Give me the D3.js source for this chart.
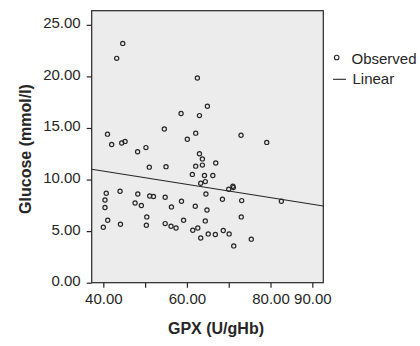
<!DOCTYPE html>
<html>
<head>
<meta charset="utf-8">
<script src="https://cdn.jsdelivr.net/npm/d3@7"></script>
<style>
  html, body { margin: 0; padding: 0; background: #fff; }
  svg { display: block; font-family: "Liberation Sans", Arial, sans-serif; }
</style>
</head>
<body>
<svg id="chart" width="420" height="346"></svg>
<script>
// ---- Data ----
const gpx = [44.65, 43.2, 62.5, 58.6, 63.0, 64.9, 54.6, 60.1, 62.1, 41.0,
             42.0, 44.4, 45.2, 48.2, 50.2, 63.0, 63.7, 72.95, 79.1, 51.0,
             55.0, 62.1, 63.7, 66.9, 61.3, 64.2, 66.2, 63.3, 64.4, 70.0,
             71.0, 71.1, 40.7, 40.4, 40.4, 41.05, 40.0, 44.0, 44.1, 47.6,
             48.25, 49.1, 50.4, 50.3, 51.1, 52.0, 54.8, 54.8, 56.3, 56.2,
             57.4, 58.7, 59.2, 61.4, 62.6, 62.0, 63.3, 64.55, 64.8, 64.4,
             65.1, 66.8, 68.7, 70.1, 71.2, 68.5, 73.1, 73.0, 82.6, 75.4];
const glucose = [23.2, 21.75, 19.85, 16.4, 16.2, 17.1, 14.9, 13.9, 14.5, 14.4,
                 13.4, 13.55, 13.7, 12.7, 13.1, 12.5, 12.0, 14.3, 13.6, 11.2,
                 11.25, 11.3, 11.4, 11.6, 10.5, 10.4, 10.4, 9.64, 9.8, 9.06,
                 9.35, 9.22, 8.67, 8.02, 7.29, 6.06, 5.38, 8.87, 5.67, 7.73,
                 8.6, 7.48, 6.38, 5.57, 8.41, 8.35, 8.28, 5.73, 7.35, 5.47,
                 5.31, 7.9, 6.06, 5.09, 5.31, 7.41, 4.34, 8.6, 7.05, 5.99,
                 4.73, 4.67, 5.06, 4.73, 3.57, 8.09, 7.96, 6.38, 7.9, 4.22];
const fitIntercept = 13.39;
const fitSlope = -0.0643;
const xTicks = [40, 50, 60, 70, 80, 90];
const xTickLabels = ["40.00", "", "60.00", "", "80.00", "90.00"];
const yTicks = [0, 5, 10, 15, 20, 25];
const yTickLabels = ["0.00", "5.00", "10.00", "15.00", "20.00", "25.00"];
const legendLabels = ["Observed", "Linear"];
const xTitle = "GPX (U/gHb)";
const yTitle = "Glucose (mmol/l)";

// ---- Layout ----
const svg = d3.select("#chart");
const pL = 91.7, pR = 323.3, pT = 10.7, pB = 282.7;
const x = d3.scaleLinear().domain([37.22, 92.63]).range([pL, pR]);
const y = d3.scaleLinear().domain([0, 26.37]).range([pB, pT]);
const ink = "#262626";

// plot background
svg.append("rect")
  .attr("x", pL).attr("y", pT)
  .attr("width", pR - pL).attr("height", pB - pT)
  .attr("fill", "#ececec").attr("stroke", ink).attr("stroke-width", 1.2);

// y axis
const yAxis = svg.append("g").attr("transform", `translate(${pL},0)`)
  .call(d3.axisLeft(y).tickValues(yTicks).tickSize(5).tickPadding(6)
        .tickFormat((d, i) => yTickLabels[i]));
yAxis.select(".domain").remove();
yAxis.selectAll("line").attr("stroke", ink).attr("stroke-width", 1.2);
yAxis.selectAll("text").attr("font-size", 15).attr("fill", ink)
  .attr("font-family", "Liberation Sans, Arial, sans-serif")
  .attr("dy", null).attr("y", 3);

// x axis
const xAxis = svg.append("g").attr("transform", `translate(0,${pB})`)
  .call(d3.axisBottom(x).tickValues(xTicks).tickSize(5).tickPadding(6)
        .tickFormat((d, i) => xTickLabels[i]));
xAxis.select(".domain").remove();
xAxis.selectAll("line").attr("stroke", ink).attr("stroke-width", 1.2);
xAxis.selectAll("text").attr("font-size", 15).attr("fill", ink)
  .attr("font-family", "Liberation Sans, Arial, sans-serif")
  .attr("dy", null).attr("y", 21);

// regression line
const xd = x.domain();
svg.append("line")
  .attr("x1", x(xd[0])).attr("y1", y(fitIntercept + fitSlope * xd[0]))
  .attr("x2", x(xd[1])).attr("y2", y(fitIntercept + fitSlope * xd[1]))
  .attr("stroke", ink).attr("stroke-width", 1.2);

// points
svg.append("g").selectAll("circle")
  .data(gpx.map((g, i) => [g, glucose[i]]))
  .join("circle")
  .attr("cx", d => x(d[0])).attr("cy", d => y(d[1]))
  .attr("r", 2.1).attr("fill", "none")
  .attr("stroke", ink).attr("stroke-width", 1.2);

// axis titles
svg.append("text").text(xTitle)
  .attr("x", 216).attr("y", 333.5).attr("text-anchor", "middle")
  .attr("font-size", 16).attr("font-weight", "bold").attr("fill", ink);
svg.append("text").text(yTitle)
  .attr("transform", "translate(31,149) rotate(-90)")
  .attr("text-anchor", "middle")
  .attr("font-size", 16).attr("font-weight", "bold").attr("fill", ink);

// legend
const lg = svg.append("g");
lg.append("circle").attr("cx", 336.7).attr("cy", 57.5).attr("r", 2.3)
  .attr("fill", "none").attr("stroke", ink).attr("stroke-width", 1.1);
lg.append("text").text(legendLabels[0]).attr("x", 351.5).attr("y", 63.5)
  .attr("font-size", 15).attr("fill", ink);
lg.append("line").attr("x1", 333).attr("x2", 346).attr("y1", 79.3).attr("y2", 79.3)
  .attr("stroke", ink).attr("stroke-width", 1.1);
lg.append("text").text(legendLabels[1]).attr("x", 352.5).attr("y", 84)
  .attr("font-size", 15).attr("fill", ink);
</script>
</body>
</html>
